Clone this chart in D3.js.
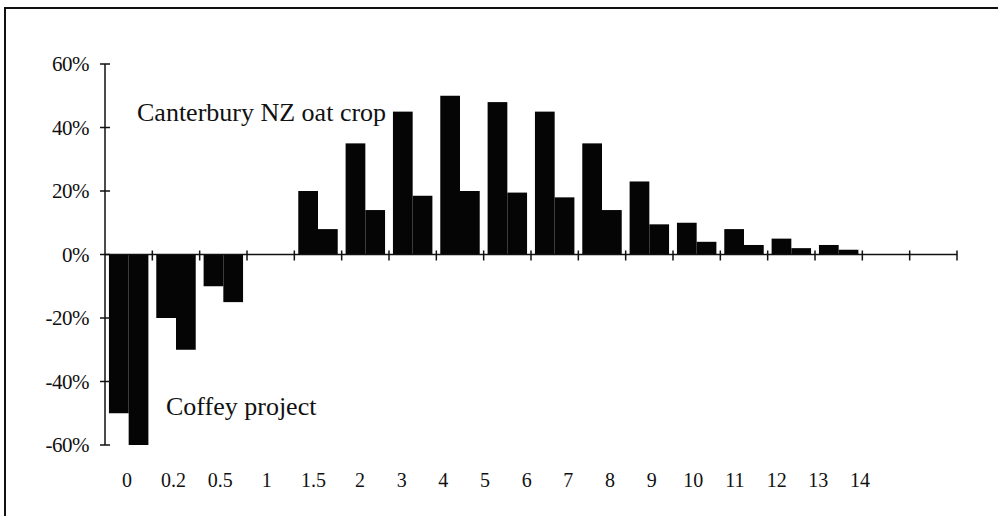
<!DOCTYPE html>
<html>
<head>
<meta charset="utf-8">
<script src="https://cdn.jsdelivr.net/npm/d3@7"></script>
<style>
  body { margin: 0; background: #fff; }
  svg text { font-family: "Liberation Serif", "DejaVu Serif", serif; fill: #111; }
</style>
</head>
<body>
<svg id="chart" width="998" height="516"></svg>
<script>
// Categories along the x axis
var categories = ["0", "0.2", "0.5", "1", "1.5", "2", "3", "4", "5", "6",
                  "7", "8", "9", "10", "11", "12", "13", "14"];
// Left bar of each pair
var seriesLeft = [-50, -20, -10, 0, 20, 35, 45, 50, 48, 45, 35, 23, 10, 8, 5, 3, 0, 0];
// Right bar of each pair
var seriesRight = [-60, -30, -15, 0, 8, 14, 18.5, 20, 19.5, 18, 14, 9.5, 4, 3, 2, 1.5, 0, 0];
var yTicks = [-60, -40, -20, 0, 20, 40, 60];
var annotations = [
  {text: "Canterbury NZ oat crop", cat: "0", value: 42},
  {text: "Coffey project", cat: "0.2", value: -50.5}
];

var svg = d3.select("#chart");
var ink = "#111";

// Frame (only top and left edges survive in the scan)
svg.append("line").attr("x1", 4).attr("x2", 998).attr("y1", 8).attr("y2", 8)
  .attr("stroke", ink).attr("stroke-width", 2);
svg.append("line").attr("x1", 5).attr("x2", 5).attr("y1", 8).attr("y2", 516)
  .attr("stroke", ink).attr("stroke-width", 2);

var x = d3.scaleBand().domain(categories).range([105, 957]).padding(0);
var sub = d3.scaleBand().domain(["left", "right"]).range([0, x.bandwidth()])
  .paddingInner(0).paddingOuter(0.2);
var y = d3.scaleLinear().domain([-60, 60]).range([445, 64]);

// Tick labels sit a bit compressed in the original, so they get their own scale
var labelX = d3.scaleLinear().domain([0, 5, 17]).range([127, 360, 860]);

var rows = categories.map(function(c, i) {
  return {cat: c, left: seriesLeft[i], right: seriesRight[i]};
});

// Bars
var groups = svg.append("g").selectAll("g")
  .data(rows).enter().append("g")
  .attr("transform", d => `translate(${x(d.cat)},0)`);

groups.selectAll("rect")
  .data(d => [{k: "left", v: d.left}, {k: "right", v: d.right}])
  .enter().append("rect")
  .attr("x", d => sub(d.k))
  .attr("width", sub.bandwidth())
  .attr("y", d => y(Math.max(0, d.v)))
  .attr("height", d => Math.abs(y(d.v) - y(0)))
  .attr("fill", "#050505");

// Y axis
var yAxis = svg.append("g");
yAxis.append("line").attr("x1", 105).attr("x2", 105)
  .attr("y1", y(60)).attr("y2", y(-60)).attr("stroke", ink).attr("stroke-width", 1.5);
yAxis.selectAll("line.tick").data(yTicks).enter().append("line")
  .attr("class", "tick")
  .attr("x1", 100).attr("x2", 110)
  .attr("y1", d => y(d)).attr("y2", d => y(d))
  .attr("stroke", ink).attr("stroke-width", 1.5);
yAxis.selectAll("text").data(yTicks).enter().append("text")
  .attr("x", 89).attr("y", d => y(d) + 7)
  .attr("text-anchor", "end")
  .attr("font-size", 21)
  .attr("letter-spacing", -0.5)
  .text(d => d + "%");

// X axis along zero
var xAxis = svg.append("g");
xAxis.append("line").attr("x1", 105).attr("x2", 957)
  .attr("y1", y(0)).attr("y2", y(0)).attr("stroke", ink).attr("stroke-width", 1.5);
var bounds = categories.map(c => x(c)).concat([x.range()[1]]);
xAxis.selectAll("line.tick").data(bounds.slice(1)).enter().append("line")
  .attr("class", "tick")
  .attr("x1", d => d).attr("x2", d => d)
  .attr("y1", y(0) - 4).attr("y2", y(0) + 6)
  .attr("stroke", ink).attr("stroke-width", 1.5);
xAxis.selectAll("text").data(categories).enter().append("text")
  .attr("x", (d, i) => labelX(i)).attr("y", 487)
  .attr("text-anchor", "middle")
  .attr("font-size", 20)
  .text(d => d);

// Series annotations
svg.selectAll("text.note").data(annotations).enter().append("text")
  .attr("class", "note")
  .attr("x", d => d.cat === "0" ? 137 : 166)
  .attr("y", d => y(d.value))
  .attr("font-size", 26)
  .text(d => d.text);
</script>
</body>
</html>
